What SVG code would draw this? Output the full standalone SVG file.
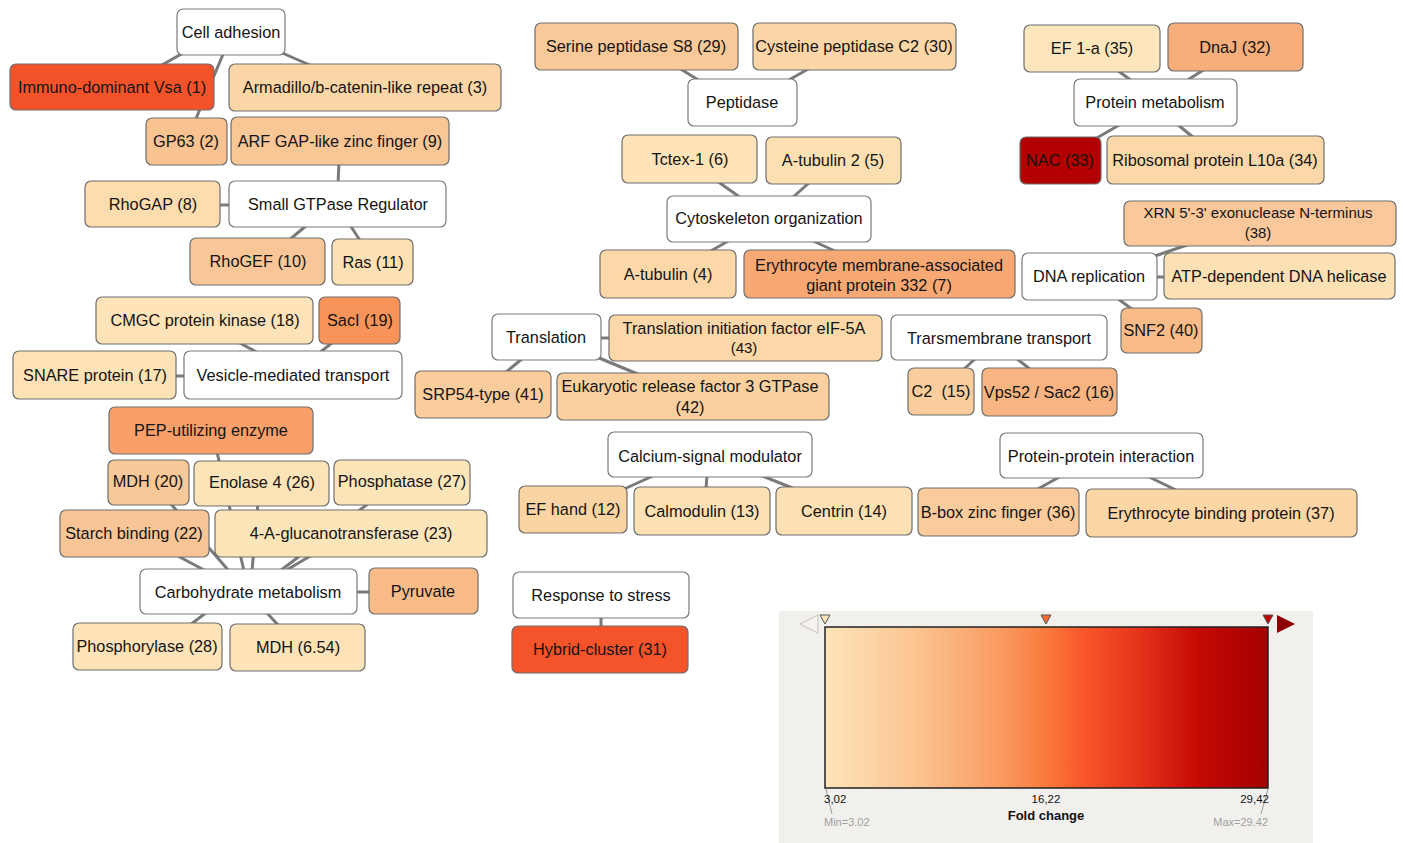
<svg xmlns="http://www.w3.org/2000/svg" width="1403" height="843" viewBox="0 0 1403 843">
<style>
.n rect{stroke:#6e6e6e;stroke-width:1.2}
.c rect{fill:#fff;stroke:#7a7a7a;stroke-width:1.2}
text{font-family:"Liberation Sans",Arial,sans-serif;font-size:16.3px;fill:#141414;text-anchor:middle}
#edges line{stroke:#7a7a7a;stroke-width:3}
.lg{font-family:"Liberation Sans",Arial,sans-serif;font-size:11.5px;fill:#111}
</style>
<defs>
<linearGradient id="fc" x1="0" y1="0" x2="1" y2="0">
<stop offset="0" stop-color="#fde4b8"/>
<stop offset="0.2" stop-color="#fbc592"/>
<stop offset="0.4" stop-color="#f99a60"/>
<stop offset="0.5" stop-color="#fa7a3c"/>
<stop offset="0.58" stop-color="#f9582a"/>
<stop offset="0.72" stop-color="#e3301a"/>
<stop offset="0.84" stop-color="#c60a04"/>
<stop offset="1" stop-color="#a30000"/>
</linearGradient>
</defs>
<rect width="1403" height="843" fill="#fff"/>
<g id="edges">
<line x1="185" y1="52" x2="160" y2="66"/>
<line x1="224" y1="52" x2="195" y2="121"/>
<line x1="280" y1="52" x2="312" y2="66"/>
<line x1="339" y1="162" x2="338" y2="184"/>
<line x1="218" y1="205" x2="232" y2="205"/>
<line x1="307" y1="225" x2="288" y2="241"/>
<line x1="350" y1="225" x2="361" y2="242"/>
<line x1="238" y1="342" x2="260" y2="354"/>
<line x1="333" y1="342" x2="318" y2="354"/>
<line x1="174" y1="376" x2="186" y2="376"/>
<line x1="217" y1="452" x2="244" y2="571"/>
<line x1="170" y1="503" x2="229" y2="571"/>
<line x1="258" y1="503" x2="252" y2="571"/>
<line x1="369" y1="503" x2="280" y2="571"/>
<line x1="176" y1="555" x2="206" y2="571"/>
<line x1="312" y1="555" x2="285" y2="571"/>
<line x1="355" y1="592" x2="371" y2="592"/>
<line x1="207" y1="612" x2="190" y2="625"/>
<line x1="266" y1="612" x2="279" y2="626"/>
<line x1="679" y1="68" x2="700" y2="81"/>
<line x1="810" y1="68" x2="787" y2="81"/>
<line x1="717" y1="181" x2="741" y2="198"/>
<line x1="810" y1="182" x2="792" y2="198"/>
<line x1="730" y1="240" x2="709" y2="252"/>
<line x1="811" y1="240" x2="837" y2="252"/>
<line x1="1117" y1="70" x2="1132" y2="81"/>
<line x1="1205" y1="69" x2="1186" y2="81"/>
<line x1="1121" y1="124" x2="1095" y2="139"/>
<line x1="1177" y1="124" x2="1194" y2="138"/>
<line x1="1190" y1="244" x2="1152" y2="257"/>
<line x1="1155" y1="277" x2="1166" y2="277"/>
<line x1="1117" y1="298" x2="1133" y2="310"/>
<line x1="599" y1="338" x2="611" y2="338"/>
<line x1="523" y1="358" x2="505" y2="373"/>
<line x1="592" y1="355" x2="640" y2="375"/>
<line x1="655" y1="475" x2="622" y2="490"/>
<line x1="707" y1="475" x2="706" y2="489"/>
<line x1="760" y1="475" x2="795" y2="489"/>
<line x1="976" y1="358" x2="963" y2="370"/>
<line x1="1016" y1="358" x2="1031" y2="370"/>
<line x1="1063" y1="475" x2="1036" y2="490"/>
<line x1="1145" y1="475" x2="1178" y2="491"/>
<line x1="601" y1="616" x2="601" y2="628"/>
</g>
<g id="cell-adhesion" class="c"><rect x="177" y="9" width="108" height="46" rx="6"/><text x="231" y="38">Cell adhesion</text></g>
<g id="immuno" class="n"><rect x="10" y="64" width="204" height="46" rx="6" fill="#f4532a"/><text x="112" y="93">Immuno-dominant Vsa (1)</text></g>
<g id="armadillo" class="n"><rect x="229" y="64" width="272" height="47" rx="6" fill="#fcd6a6"/><text x="365" y="93">Armadillo/b-catenin-like repeat (3)</text></g>
<g id="gp63" class="n"><rect x="146" y="118" width="81" height="47" rx="6" fill="#f9c391"/><text x="186" y="147">GP63 (2)</text></g>
<g id="arfgap" class="n"><rect x="231" y="117" width="218" height="48" rx="6" fill="#f9c696"/><text x="340" y="147">ARF GAP-like zinc finger (9)</text></g>
<g id="rhogap" class="n"><rect x="85" y="181" width="135" height="46" rx="6" fill="#fddcae"/><text x="153" y="210">RhoGAP (8)</text></g>
<g id="small-gtpase" class="c"><rect x="229" y="181" width="217" height="46" rx="6"/><text x="338" y="210">Small GTPase Regulator</text></g>
<g id="rhogef" class="n"><rect x="190" y="238" width="135" height="47" rx="6" fill="#f9c797"/><text x="258" y="267">RhoGEF (10)</text></g>
<g id="ras" class="n"><rect x="332" y="239" width="81" height="46" rx="6" fill="#fde0b3"/><text x="373" y="268">Ras (11)</text></g>
<g id="cmgc" class="n"><rect x="96" y="297" width="217" height="47" rx="6" fill="#fde3b7"/><text x="205" y="326">CMGC protein kinase (18)</text></g>
<g id="saci" class="n"><rect x="319" y="297" width="81" height="47" rx="6" fill="#f8945a"/><text x="360" y="326">SacI (19)</text></g>
<g id="snare" class="n"><rect x="13" y="351" width="163" height="48" rx="6" fill="#fde2b5"/><text x="95" y="381">SNARE protein (17)</text></g>
<g id="vesicle" class="c"><rect x="184" y="351" width="218" height="48" rx="6"/><text x="293" y="381">Vesicle-mediated transport</text></g>
<g id="pep" class="n"><rect x="109" y="407" width="204" height="47" rx="6" fill="#f9a06a"/><text x="211" y="436">PEP-utilizing enzyme</text></g>
<g id="mdh20" class="n"><rect x="108" y="460" width="81" height="45" rx="6" fill="#f9c899"/><text x="148" y="487">MDH (20)</text></g>
<g id="enolase" class="n"><rect x="194" y="461" width="135" height="45" rx="6" fill="#fde3b8"/><text x="262" y="488">Enolase 4 (26)</text></g>
<g id="phosphatase" class="n"><rect x="334" y="460" width="136" height="45" rx="6" fill="#fde5ba"/><text x="402" y="487">Phosphatase (27)</text></g>
<g id="starch" class="n"><rect x="60" y="510" width="149" height="47" rx="6" fill="#f9c596"/><text x="134" y="539">Starch binding (22)</text></g>
<g id="glucanotransferase" class="n"><rect x="215" y="510" width="272" height="47" rx="6" fill="#fde5ba"/><text x="351" y="539">4-A-glucanotransferase (23)</text></g>
<g id="carbohydrate" class="c"><rect x="140" y="569" width="217" height="45" rx="6"/><text x="248" y="598">Carbohydrate metabolism</text></g>
<g id="pyruvate" class="n"><rect x="369" y="568" width="109" height="46" rx="6" fill="#f9bc88"/><text x="423" y="597">Pyruvate</text></g>
<g id="phosphorylase" class="n"><rect x="73" y="623" width="149" height="47" rx="6" fill="#fde3b7"/><text x="147" y="652">Phosphorylase (28)</text></g>
<g id="mdh654" class="n"><rect x="230" y="624" width="135" height="47" rx="6" fill="#fde3b7"/><text x="298" y="653">MDH (6.54)</text></g>
<g id="serine" class="n"><rect x="535" y="23" width="203" height="47" rx="6" fill="#fac99a"/><text x="636" y="52">Serine peptidase S8 (29)</text></g>
<g id="cysteine" class="n"><rect x="753" y="23" width="203" height="47" rx="6" fill="#fcd6a6"/><text x="854" y="52">Cysteine peptidase C2 (30)</text></g>
<g id="peptidase" class="c"><rect x="688" y="79" width="109" height="47" rx="6"/><text x="742" y="108">Peptidase</text></g>
<g id="tctex" class="n"><rect x="622" y="135" width="135" height="48" rx="6" fill="#fde3b7"/><text x="690" y="165">Tctex-1 (6)</text></g>
<g id="atub2" class="n"><rect x="766" y="137" width="135" height="47" rx="6" fill="#fde0b2"/><text x="833" y="166">A-tubulin 2 (5)</text></g>
<g id="cytoskeleton" class="c"><rect x="667" y="196" width="204" height="46" rx="6"/><text x="769" y="224">Cytoskeleton organization</text></g>
<g id="atub4" class="n"><rect x="600" y="250" width="136" height="48" rx="6" fill="#fcd8a8"/><text x="668" y="280">A-tubulin (4)</text></g>
<g id="erythrocyte332" class="n"><rect x="744" y="250" width="271" height="48" rx="6" fill="#f8a873"/><text x="879" y="271">Erythrocyte membrane-associated</text><text x="879" y="291">giant protein 332 (7)</text></g>
<g id="ef1a" class="n"><rect x="1024" y="25" width="136" height="47" rx="6" fill="#fde6bb"/><text x="1092" y="54">EF 1-a (35)</text></g>
<g id="dnaj" class="n"><rect x="1168" y="23" width="135" height="48" rx="6" fill="#f8ae7b"/><text x="1235" y="53">DnaJ (32)</text></g>
<g id="protein-metabolism" class="c"><rect x="1074" y="79" width="163" height="47" rx="6"/><text x="1155" y="108">Protein metabolism</text></g>
<g id="nac" class="n"><rect x="1020" y="137" width="81" height="47" rx="6" fill="#b30000"/><text x="1060" y="166">NAC (33)</text></g>
<g id="ribosomal" class="n"><rect x="1107" y="136" width="217" height="48" rx="6" fill="#fcd8a8"/><text x="1215" y="166">Ribosomal protein L10a (34)</text></g>
<g id="xrn" class="n"><rect x="1124" y="201" width="272" height="45" rx="6" fill="#fac89a"/><text x="1258" y="218" style="font-size:15px">XRN 5'-3' exonuclease N-terminus</text><text x="1258" y="238" style="font-size:15px">(38)</text></g>
<g id="dna-replication" class="c"><rect x="1022" y="253" width="135" height="47" rx="6"/><text x="1089" y="282">DNA replication</text></g>
<g id="helicase" class="n"><rect x="1164" y="253" width="231" height="46" rx="6" fill="#fde1b4"/><text x="1279" y="282">ATP-dependent DNA helicase</text></g>
<g id="snf2" class="n"><rect x="1121" y="308" width="81" height="45" rx="6" fill="#f9bb88"/><text x="1161" y="336">SNF2 (40)</text></g>
<g id="translation" class="c"><rect x="492" y="314" width="109" height="46" rx="6"/><text x="546" y="343">Translation</text></g>
<g id="eif5a" class="n"><rect x="609" y="315" width="273" height="46" rx="6" fill="#fcd7a7"/><text x="744" y="334">Translation initiation factor eIF-5A</text><text x="744" y="353" style="font-size:15px">(43)</text></g>
<g id="srp54" class="n"><rect x="415" y="371" width="136" height="47" rx="6" fill="#fbcd9d"/><text x="483" y="400">SRP54-type (41)</text></g>
<g id="erf3" class="n"><rect x="557" y="373" width="272" height="47" rx="6" fill="#fbd09f"/><text x="690" y="392">Eukaryotic release factor 3 GTPase</text><text x="690" y="413">(42)</text></g>
<g id="transmembrane" class="c"><rect x="891" y="315" width="216" height="45" rx="6"/><text x="999" y="344">Trarsmembrane transport</text></g>
<g id="c2" class="n"><rect x="908" y="368" width="66" height="47" rx="6" fill="#fbcd9d"/><text x="941" y="397" xml:space="preserve">C2  (15)</text></g>
<g id="vps52" class="n"><rect x="982" y="368" width="135" height="48" rx="6" fill="#f9b482"/><text x="1049" y="398">Vps52 / Sac2 (16)</text></g>
<g id="calcium" class="c"><rect x="608" y="432" width="204" height="45" rx="6"/><text x="710" y="462">Calcium-signal modulator</text></g>
<g id="efhand" class="n"><rect x="519" y="486" width="108" height="47" rx="6" fill="#fbd4a3"/><text x="573" y="515">EF hand (12)</text></g>
<g id="calmodulin" class="n"><rect x="634" y="487" width="136" height="48" rx="6" fill="#fde0b3"/><text x="702" y="517">Calmodulin (13)</text></g>
<g id="centrin" class="n"><rect x="776" y="487" width="136" height="48" rx="6" fill="#fde0b3"/><text x="844" y="517">Centrin (14)</text></g>
<g id="ppi" class="c"><rect x="1000" y="433" width="203" height="45" rx="6"/><text x="1101" y="462">Protein-protein interaction</text></g>
<g id="bbox" class="n"><rect x="918" y="488" width="161" height="48" rx="6" fill="#fbcb9b"/><text x="998" y="518">B-box zinc finger (36)</text></g>
<g id="erythrocyte-binding" class="n"><rect x="1086" y="489" width="271" height="48" rx="6" fill="#fcd6a5"/><text x="1221" y="519">Erythrocyte binding protein (37)</text></g>
<g id="stress" class="c"><rect x="513" y="572" width="176" height="46" rx="6"/><text x="601" y="601">Response to stress</text></g>
<g id="hybrid" class="n"><rect x="512" y="626" width="176" height="47" rx="6" fill="#f5532a"/><text x="600" y="655">Hybrid-cluster (31)</text></g>
<g id="legend">
<rect x="779" y="611" width="534" height="232" fill="#f1f0ed"/>
<rect x="825" y="627" width="443" height="161" fill="url(#fc)" stroke="#222" stroke-width="1.5"/>
<polygon points="818,615 800,624 818,633" fill="#f7f3ee" stroke="#cfcac4" stroke-width="1.2"/>
<polygon points="1277,615 1295,624 1277,633" fill="#8b0000"/>
<polygon points="820,615 830,615 825,624" fill="#fde4b8" stroke="#555" stroke-width="1"/>
<polygon points="1041,615 1051,615 1046,624" fill="#f86a2e" stroke="#555" stroke-width="1"/>
<polygon points="1263,615 1273,615 1268,624" fill="#c00000" stroke="#555" stroke-width="1"/>
<line x1="826" y1="789" x2="832" y2="814" stroke="#888" stroke-width="0.8"/>
<line x1="1268" y1="789" x2="1261" y2="814" stroke="#888" stroke-width="0.8"/>
<text class="lg" x="824" y="803" style="text-anchor:start">3,02</text>
<text class="lg" x="1046" y="803">16,22</text>
<text class="lg" x="1269" y="803" style="text-anchor:end">29,42</text>
<text class="lg" x="1046" y="820" style="font-weight:bold;font-size:13px">Fold change</text>
<text class="lg" x="824" y="826" style="text-anchor:start;fill:#a0a0a0;font-size:11px">Min=3.02</text>
<text class="lg" x="1268" y="826" style="text-anchor:end;fill:#a0a0a0;font-size:11px">Max=29.42</text>
</g>
</svg>
